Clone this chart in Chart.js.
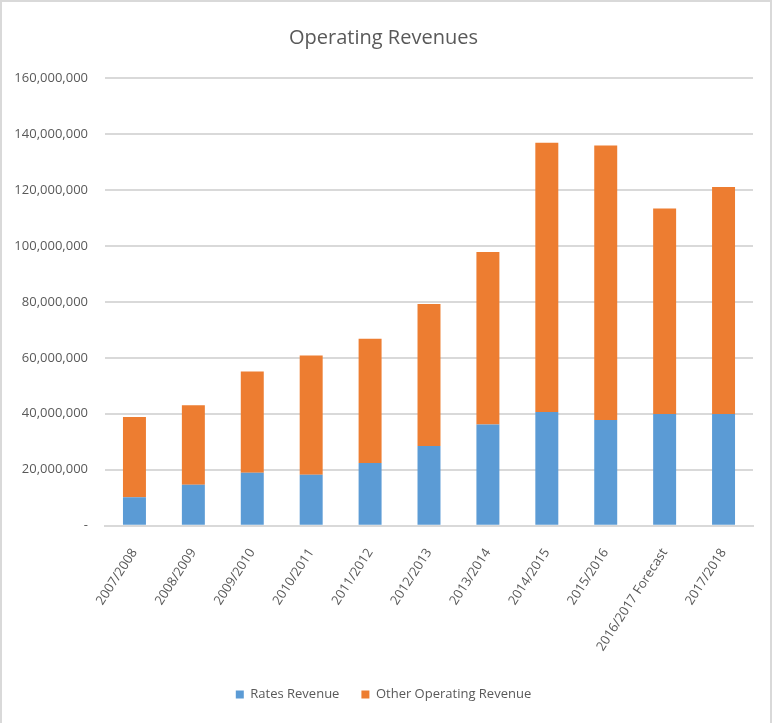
<!DOCTYPE html>
<html>
<head>
<meta charset="utf-8">
<script src="https://cdn.jsdelivr.net/npm/chart.js@4/dist/chart.umd.min.js"></script>
<style>
  html, body { margin: 0; padding: 0; background: #fff; }
  #wrap {
    position: relative; width: 772px; height: 723px; box-sizing: border-box;
    border-top: 2px solid #d9d9d9; border-left: 2px solid #d9d9d9; border-right: 2px solid #d9d9d9;
  }
</style>
</head>
<body>
<div id="wrap"><canvas id="revChart"></canvas></div>
<script>
// financial years shown on the x axis
const years = ['2007/2008', '2008/2009', '2009/2010', '2010/2011', '2011/2012', '2012/2013',
  '2013/2014', '2014/2015', '2015/2016', '2016/2017 Forecast', '2017/2018'];

// values (dollars)
const ratesRevenue = [10200000, 14600000, 18900000, 18200000, 22400000, 28500000,
  36200000, 40600000, 37800000, 39900000, 39900000];
const otherRevenue = [28600000, 28400000, 36200000, 42600000, 44400000, 50700000,
  61600000, 96300000, 98100000, 73500000, 81100000];

const yMax = 160000000;
const yStep = 20000000;

const FONT = "'Open Sans', 'Liberation Sans', Arial, sans-serif";
const GREY = '#595959';

const ctx = document.getElementById('revChart');
new Chart(ctx, {
  type: 'bar',
  data: {
    labels: years,
    datasets: [
      { label: 'Rates Revenue', data: ratesRevenue, backgroundColor: '#5b9bd5' },
      { label: 'Other Operating Revenue', data: otherRevenue, backgroundColor: '#ed7d31' }
    ]
  },
  options: {
    responsive: true,
    maintainAspectRatio: false,
    animation: false,
    layout: { padding: { left: 12, right: 17, top: 8, bottom: 12 } },
    datasets: { bar: { categoryPercentage: 1, barPercentage: 0.39 } },
    plugins: {
      title: {
        display: true, text: 'Operating Revenues', color: GREY,
        font: { family: FONT, size: 20, weight: 'normal' }, padding: { top: 16, bottom: 28 }
      },
      legend: {
        position: 'bottom',
        labels: { color: GREY, font: { family: FONT, size: 13 }, boxWidth: 8, boxHeight: 8, padding: 22 }
      },
      tooltip: { enabled: false }
    },
    scales: {
      x: {
        stacked: true,
        grid: { display: false },
        border: { color: '#d9d9d9', width: 2 },
        ticks: { color: GREY, font: { family: FONT, size: 13 }, maxRotation: 57, minRotation: 57, padding: 12 }
      },
      y: {
        stacked: true,
        min: 0, max: yMax,
        border: { display: false },
        grid: { color: '#d9d9d9', lineWidth: 2, drawTicks: false },
        afterFit: s => { s.width = 91; },
        ticks: {
          stepSize: yStep, color: GREY, font: { family: FONT, size: 13 }, padding: 17,
          callback: v => v === 0 ? '-' : v.toLocaleString('en-US')
        }
      }
    }
  }
});
</script>
</body>
</html>
